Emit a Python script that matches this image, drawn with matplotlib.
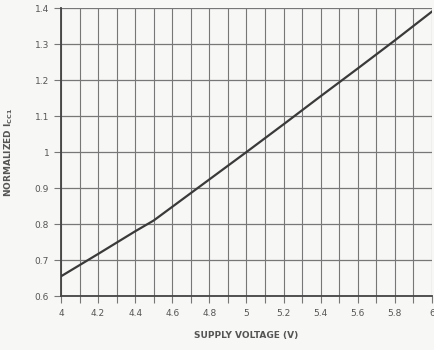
import numpy as np
from matplotlib import pyplot as plt

# supply voltage (V) and normalized Icc1
voltage = [4.0, 4.2, 4.4, 4.5, 4.6, 4.8, 5.0, 5.2, 5.4, 5.6, 5.8, 6.0]
icc_norm = [0.655, 0.717, 0.78, 0.81, 0.848, 0.924, 1.0, 1.077, 1.155, 1.232, 1.31, 1.39]

x_ticks = [4, 4.2, 4.4, 4.6, 4.8, 5, 5.2, 5.4, 5.6, 5.8, 6]
x_labels = ['4', '4.2', '4.4', '4.6', '4.8', '5', '5.2', '5.4', '5.6', '5.8', '6']
y_ticks = [0.6, 0.7, 0.8, 0.9, 1.0, 1.1, 1.2, 1.3, 1.4]
y_labels = ['0.6', '0.7', '0.8', '0.9', '1', '1.1', '1.2', '1.3', '1.4']

TEXT = '#555555'
GRID = '#777777'

fig = plt.figure(figsize=(4.34, 3.5), dpi=100, facecolor='#f7f7f5')
ax = fig.add_axes([0.1406, 0.154, 0.8544, 0.823])
ax.set_facecolor('#f7f7f5')

ax.plot(voltage, icc_norm, color='#3a3a3a', linewidth=1.6, zorder=3)

ax.set_xlim(4, 6)
ax.set_ylim(0.6, 1.4)
ax.set_xticks(x_ticks)
ax.set_xticklabels(x_labels)
ax.set_xticks(np.arange(4.1, 6.0, 0.2), minor=True)
ax.set_yticks(y_ticks)
ax.set_yticklabels(y_labels)

ax.grid(True, which='both', axis='x', color=GRID, linewidth=0.8)
ax.grid(True, which='major', axis='y', color=GRID, linewidth=0.9)

ax.tick_params(axis='both', which='both', colors=GRID, labelcolor=TEXT,
               labelsize=6.5, length=5, width=0.8)
ax.tick_params(axis='x', pad=4)

for side in ['top', 'right']:
    ax.spines[side].set_visible(False)
ax.spines['left'].set_color('#444444')
ax.spines['left'].set_linewidth(1.3)
ax.spines['bottom'].set_color('#444444')
ax.spines['bottom'].set_linewidth(1.3)

ax.set_xlabel('SUPPLY VOLTAGE (V)', fontsize=6.5, fontweight='bold',
              color=TEXT, labelpad=10)
ax.set_ylabel('NORMALIZED I$_{\\mathregular{CC1}}$', fontsize=6.5,
              fontweight='bold', color=TEXT, labelpad=14)

fig.savefig('out.png', dpi=100, facecolor=fig.get_facecolor())
